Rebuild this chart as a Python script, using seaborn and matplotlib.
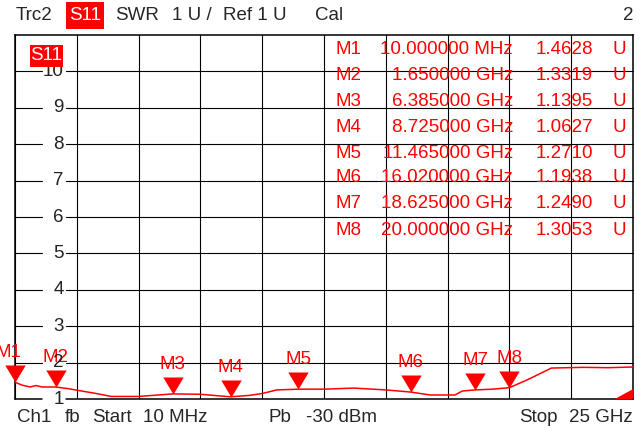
import numpy as np
import matplotlib
matplotlib.use("Agg")
import matplotlib.pyplot as plt
import seaborn as sns
from matplotlib.path import Path
from matplotlib.patches import Polygon, Rectangle

# ==========================================
# Data
# ==========================================
START_GHZ = 0.01
STOP_GHZ = 25.0
Y_MIN, Y_MAX = 1, 11
Y_TICKS = [1, 2, 3, 4, 5, 6, 7, 8, 9, 10]

trace_freq = [0.01, 0.3, 0.62, 0.86, 1.1, 1.65, 2.2, 2.7, 3.3, 3.9, 5.0,
              6.385, 7.5, 8.725, 9.5, 10.0, 10.6, 11.465, 12.5, 13.7, 15.0,
              16.02, 16.8, 17.8, 18.1, 18.625, 19.3, 20.0, 20.8, 21.7, 23.0,
              24.0, 25.0]
trace_swr = [1.46, 1.38, 1.33, 1.37, 1.33, 1.33, 1.28, 1.22, 1.15, 1.07, 1.07,
             1.14, 1.13, 1.06, 1.1, 1.15, 1.25, 1.27, 1.27, 1.3, 1.25,
             1.19, 1.11, 1.11, 1.22, 1.25, 1.27, 1.31, 1.55, 1.85, 1.87,
             1.86, 1.88]

marker_names = ['M1', 'M2', 'M3', 'M4', 'M5', 'M6', 'M7', 'M8']
marker_freq = [0.01, 1.65, 6.385, 8.725, 11.465, 16.02, 18.625, 20.0]
marker_swr = [1.4628, 1.3319, 1.1395, 1.0627, 1.2710, 1.1938, 1.2490, 1.3053]
marker_freq_text = ['10.000000 MHz', '1.650000 GHz', '6.385000 GHz',
                    '8.725000 GHz', '11.465000 GHz', '16.020000 GHz',
                    '18.625000 GHz', '20.000000 GHz']

RED = '#ff0000'
W, H = 642, 429
FS = 13.5


def px(x, y):
    """pixel position -> figure fraction"""
    return x / W, 1 - y / H


# ==========================================
# Figure
# ==========================================
sns.set_style('white')
plt.rcParams['font.family'] = ['Liberation Sans', 'DejaVu Sans']

fig = plt.figure(figsize=(W / 100, H / 100), dpi=100)
L, T, R, B = 15, 35, 633, 399
ax = fig.add_axes([L / W, 1 - B / H, (R - L) / W, (B - T) / H])

sns.lineplot(x=trace_freq, y=trace_swr, color=RED, linewidth=1.1, ax=ax,
             zorder=4)

# downward triangle with its tip at the marker value
tip = Path([(-0.6, 1.0), (0.6, 1.0), (0.0, 0.0), (-0.6, 1.0)],
           [Path.MOVETO, Path.LINETO, Path.LINETO, Path.CLOSEPOLY])
sns.scatterplot(x=marker_freq, y=marker_swr, marker=tip, s=600, color=RED,
                linewidth=0, ax=ax, zorder=5, clip_on=False, legend=False)

for name, f, v in zip(marker_names, marker_freq, marker_swr):
    dx = -4.5 if name == 'M1' else 0
    ax.annotate(name, (f, v), xytext=(dx, 21), textcoords='offset points',
                ha='center', va='center', color=RED, fontsize=FS,
                annotation_clip=False)

ax.set_xlim(START_GHZ, STOP_GHZ)
ax.set_ylim(Y_MIN, Y_MAX)
ax.set_xticks(np.linspace(START_GHZ, STOP_GHZ, 11))
ax.set_yticks([])
ax.tick_params(length=0, labelbottom=False, labelleft=False)
ax.grid(axis='x', color='black', linewidth=0.8)

for s in ['left', 'right', 'top']:
    ax.spines[s].set_color('black')
    ax.spines[s].set_linewidth(1.1)
ax.spines['bottom'].set_visible(False)

# horizontal grid, broken where the scale numbers sit
gap0, gap1 = (42 - L) / (R - L), (66 - L) / (R - L)
for y in Y_TICKS:
    lw = 1.1 if y == Y_MIN else 0.8
    ax.axhline(y, 0, gap0, color='black', linewidth=lw, clip_on=False)
    ax.axhline(y, gap1, 1, color='black', linewidth=lw, clip_on=False)
    ax.text((64 - L) / (R - L), y, str(y), transform=ax.get_yaxis_transform(),
            ha='right', va='center', fontsize=FS, color='#222222')

# trace label box inside the diagram
ax.add_patch(Rectangle(px(30, 67), 33 / W, 22 / H, transform=fig.transFigure,
                       facecolor=RED, edgecolor='none', zorder=6))
fig.text(*px(46.5, 56), 'S11', color='white', fontsize=FS, ha='center',
         va='center', zorder=7)

# out-of-range indicator at bottom right
ax.add_patch(Polygon([px(615, 399), px(633, 399), px(633, 389)],
                     closed=True, transform=fig.transFigure, facecolor=RED,
                     edgecolor='none', zorder=6))

# marker table
row_y = [50, 76, 101, 127, 153, 178, 204, 230]
for name, ftxt, v, y in zip(marker_names, marker_freq_text, marker_swr, row_y):
    fig.text(*px(336, y), name, color=RED, fontsize=FS, ha='left', va='center')
    fig.text(*px(513, y), ftxt, color=RED, fontsize=FS, ha='right', va='center')
    fig.text(*px(593, y), f'{v:.4f}', color=RED, fontsize=FS, ha='right',
             va='center')
    fig.text(*px(612, y), 'U', color=RED, fontsize=FS, ha='left', va='center')

# header line
fig.patches.append(Rectangle(px(66, 29), 38 / W, 27 / H,
                             transform=fig.transFigure, facecolor=RED,
                             edgecolor='none'))
fig.text(*px(85, 16), 'S11', color='white', fontsize=FS, ha='center', va='center')
for x, s in [(16, 'Trc2'), (115, 'SWR'), (172, '1 U /'), (223, 'Ref 1 U'),
             (315, 'Cal')]:
    fig.text(*px(x, 16), s, fontsize=FS, ha='left', va='center')
fig.text(*px(633, 16), '2', fontsize=FS, ha='right', va='center')

# footer line
for x, s in [(17, 'Ch1'), (65, 'fb'), (92, 'Start'), (143, '10 MHz'),
             (268, 'Pb'), (306, '-30 dBm'), (519, 'Stop')]:
    fig.text(*px(x, 418), s, fontsize=FS, ha='left', va='center')
fig.text(*px(633, 418), '25 GHz', fontsize=FS, ha='right', va='center')

fig.savefig('out.png', dpi=100, facecolor='white')
